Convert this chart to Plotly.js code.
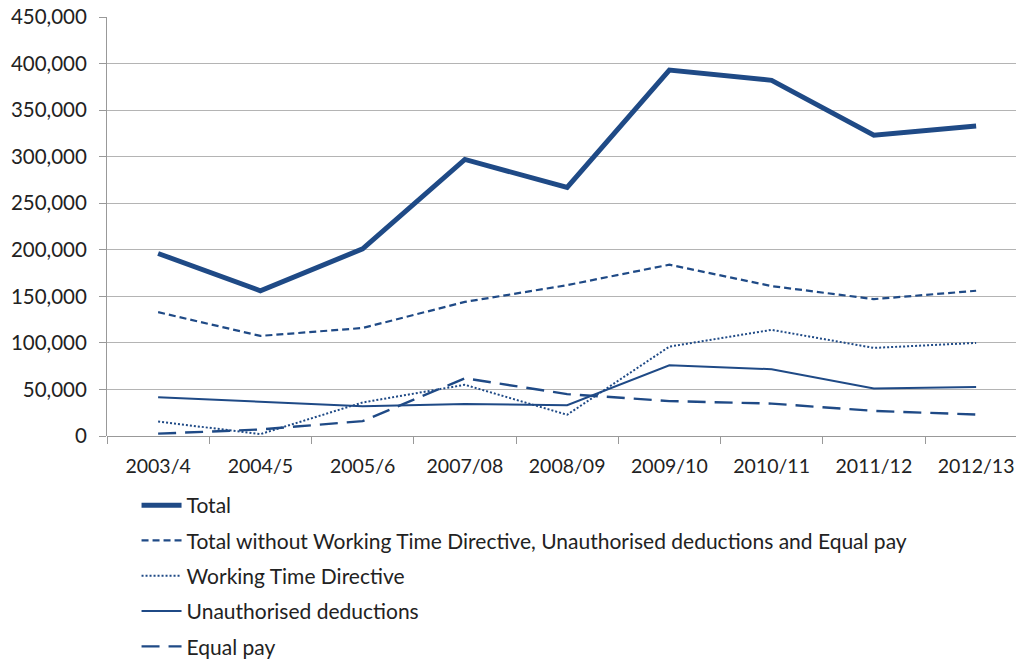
<!DOCTYPE html>
<html>
<head>
<meta charset="utf-8">
<script src="https://cdn.plot.ly/plotly-3.0.1.min.js"></script>
<style>html,body{margin:0;padding:0;background:#fff;} #chart{width:1016px;height:663px;}</style>
</head>
<body>
<div id="chart"></div>
<script>
const years = ["2003/4","2004/5","2005/6","2007/08","2008/09","2009/10","2010/11","2011/12","2012/13"];
const total = [196000,156000,201000,297000,267000,393000,382000,323000,333000];
const totalWithout = [133000,107500,116000,144000,162000,184000,161000,147000,156000];
const workingTime = [15600,2000,36000,55000,22800,96000,114000,94600,100000];
const unauthorised = [41600,37000,32000,34500,33000,76000,71700,51000,52500];
const equalPay = [2500,7000,16000,62000,45000,37500,34800,27000,23000];

const seriesNames = ["Total","Total without Working Time Directive, Unauthorised deductions and Equal pay","Working Time Directive","Unauthorised deductions","Equal pay"];
const yTicks = [0,50000,100000,150000,200000,250000,300000,350000,400000,450000];

const col = "#1f4a86";
function tr(y, name, width, dash, g){
  return {x: years, y: y, name: name, type: "scatter", mode: "lines",
    line: {color: col, width: width, dash: dash}, legendgroup: g, hoverinfo: "x+y"};
}
const data = [
  tr(total, seriesNames[0], 5, "solid", "a"),
  tr(totalWithout, seriesNames[1], 2.2, "7px,4px", "b"),
  tr(workingTime, seriesNames[2], 2, "2px,2px", "c"),
  tr(unauthorised, seriesNames[3], 2, "solid", "d"),
  tr(equalPay, seriesNames[4], 2.4, "18px,9px", "e")
];
const font = {family: "Lato, 'Open Sans', sans-serif", size: 21, color: "#222"};
const tickFont = {family: "Lato, 'Open Sans', sans-serif", size: 20.5, color: "#222"};
const xTickFont = {family: "Lato, 'Open Sans', sans-serif", size: 19.5, color: "#222"};
const layout = {
  width: 1016, height: 663,
  margin: {l: 107, r: 0, t: 17, b: 227, autoexpand: false},
  paper_bgcolor: "#fff", plot_bgcolor: "#fff",
  font: font,
  showlegend: true,
  legend: {orientation: "v", xref: "paper", x: 0.0325, xanchor: "left",
    yref: "container", y: 0.2685, yanchor: "top",
    font: font, tracegroupgap: 5, itemwidth: 40, bgcolor: "rgba(0,0,0,0)"},
  xaxis: {type: "category", range: [-0.5, 8.39], showgrid: false, zeroline: false,
    showline: false, ticks: "outside", tickson: "boundaries", ticklen: 7, tickcolor: "#999",
    tickfont: xTickFont, ticklabelstandoff: 16, fixedrange: true},
  yaxis: {range: [0, 450000], tickvals: yTicks, tickformat: ",d", showgrid: true,
    gridcolor: "#b4b4b4", gridwidth: 1, zeroline: true, zerolinecolor: "#999", zerolinewidth: 1,
    showline: true, linecolor: "#999", linewidth: 1, ticks: "outside", ticklen: 7, tickcolor: "#999",
    tickfont: tickFont, ticklabelstandoff: 8, fixedrange: true}
};
Plotly.newPlot("chart", data, layout, {displayModeBar: false, staticPlot: false});
</script>
</body>
</html>
